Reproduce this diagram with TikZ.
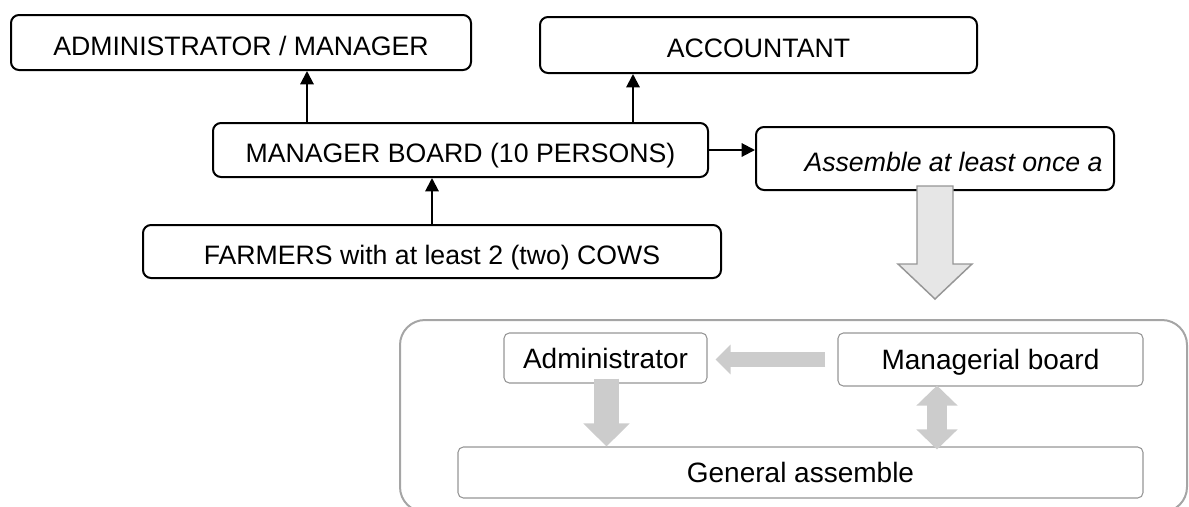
\documentclass[tikz,border=0pt]{standalone}
\usepackage{fontspec}
\setmainfont{Liberation Sans}
\usetikzlibrary{arrows.meta}

\definecolor{boxgray}{RGB}{150,150,150}
\definecolor{framegray}{RGB}{165,165,165}
\definecolor{arrowgray}{RGB}{204,204,204}
\definecolor{biggray}{RGB}{230,230,230}

\tikzset{
  topbox/.style={draw, line width=1.5pt, rounded corners=6pt, fill=white, inner sep=0pt,
    text height=18.8pt, text depth=0pt, font=\fontsize{20}{24}\selectfont},
  lowbox/.style={draw=boxgray, line width=0.8pt, rounded corners=4pt, fill=white, inner sep=0pt,
    text height=15pt, text depth=0pt, font=\fontsize{21}{25}\selectfont},
  linkarrow/.style={-{Triangle[length=10pt,width=10pt]}, line width=1.5pt},
  grayarrow/.style={draw=arrowgray}
}

\begin{document}
\begin{tikzpicture}[x=0.75pt,y=0.75pt,yscale=-1,xscale=1]
\useasboundingbox (0,0) rectangle (1189,507);
\clip (0,0) rectangle (1189,507);

% Top boxes
\node [topbox, minimum width=345pt, minimum height=41.25pt] (admin) at (241,42.5) {ADMINISTRATOR / MANAGER};
\node [topbox, minimum width=327.75pt, minimum height=42pt] (acc) at (758.5,45) {ACCOUNTANT};
\node [topbox, minimum width=371.25pt, minimum height=40.5pt] (board) at (460.5,150) {MANAGER BOARD (10 PERSONS)};
\node [topbox, minimum width=268.5pt, minimum height=47.25pt] (assem) at (935,158.5) {\hspace*{27.75pt}\itshape Assemble at least once a};
\node [topbox, minimum width=433.5pt, minimum height=39.75pt] (farm) at (432,251.5) {FARMERS with at least 2 (two) COWS};

% Straight Lines
\draw [linkarrow] ([xshift=49.5pt]admin.south |- board.north) -- ([xshift=49.5pt]admin.south);
\draw [linkarrow] ([xshift=-94.125pt]acc.south |- board.north) -- ([xshift=-94.125pt]acc.south);
\draw [linkarrow] (farm.north) -- (farm.north |- board.south);
\draw [linkarrow] (board.east) -- (board.east -| assem.west);

% Shape: big down arrow
\draw [draw=boxgray, fill=biggray, line width=1.1pt] ([xshift=-13.5pt,yshift=-3.75pt]assem.south)
  -- ++(36,0) -- ++(0,78) -- ++(19,0) -- ++(-37,35) -- ++(-37,-35) -- ++(19,0) -- cycle;

% Shape: frame
\draw [draw=framegray, line width=1.5pt, rounded corners=18.75pt] (400,320) rectangle (1187,512);

% Lower boxes
\node [lowbox, minimum width=152.25pt, minimum height=37.5pt] (adm2) at (605.5,358) {Administrator};
\node [lowbox, minimum width=228.75pt, minimum height=39.75pt] (mgr) at (990.5,359.5) {Managerial board};
\node [lowbox, minimum width=513.75pt, minimum height=38.25pt] (gen) at (800.5,472.5) {General assemble};

% Gray arrows
\draw [grayarrow, line width=11.25pt, -{Triangle[length=11.25pt,width=21.75pt]}]
  ([xshift=-9pt]mgr.west) -- ([xshift=6pt]adm2.east |- mgr.west);
\draw [grayarrow, line width=18.75pt, -{Triangle[length=17.25pt,width=33.75pt]}]
  ([xshift=0.75pt,yshift=-3.75pt]adm2.south) -- ([xshift=0.75pt]adm2.south |- gen.north);
\draw [grayarrow, line width=15pt, {Triangle[length=15pt,width=30pt]}-{Triangle[length=15pt,width=30pt]}]
  ([xshift=-40.125pt,yshift=-0.75pt]mgr.south) -- ([xshift=-40.125pt,yshift=2.25pt]mgr.south |- gen.north);

\end{tikzpicture}
\end{document}
